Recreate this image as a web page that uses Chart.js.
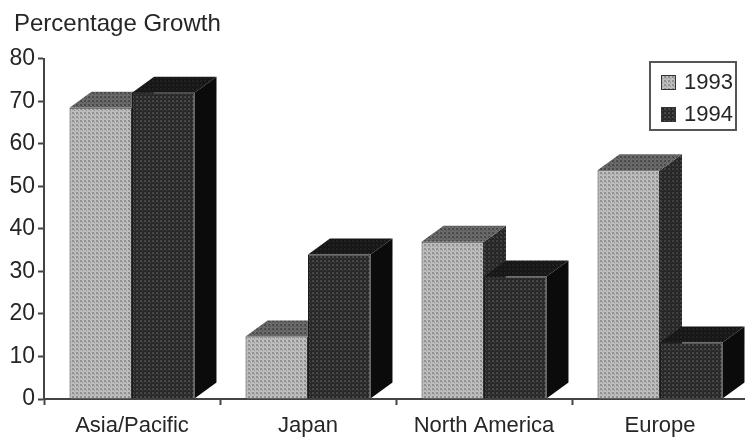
<!DOCTYPE html>
<html>
<head>
<meta charset="utf-8">
<title>Percentage Growth</title>
<script src="https://cdn.jsdelivr.net/npm/chart.js@4/dist/chart.umd.min.js"></script>
<style>
  html, body { margin: 0; padding: 0; background: #fff; overflow: hidden; width: 745px; height: 437px; }
  #wrap { width: 760px; height: 437px; }
</style>
</head>
<body>
<div id="wrap"><canvas id="growthChart" width="760" height="437"></canvas></div>
<script>
const regions = ['Asia/Pacific', 'Japan', 'North America', 'Europe'];
const years = ['1993', '1994'];
const growth1993 = [68.5, 14.7, 37, 53.8];
const growth1994 = [72, 34, 28.8, 13.3];
const yTicks = [0, 10, 20, 30, 40, 50, 60, 70, 80];

const INK = '#262626';
const DEPTH_X = 22;
const DEPTH_Y = 16;

// Small halftone tile, the print-style screen used on every face
function screenTone(base, dot) {
  const tile = document.createElement('canvas');
  tile.width = 4;
  tile.height = 4;
  const t = tile.getContext('2d');
  t.fillStyle = base;
  t.fillRect(0, 0, 4, 4);
  t.fillStyle = dot;
  t.fillRect(0, 0, 2, 2);
  t.fillRect(2, 2, 1, 1);
  return t.createPattern(tile, 'repeat');
}

const faces = [
  { front: screenTone('#bdbdbd', '#8f8f8f'), top: screenTone('#6a6a6a', '#4a4a4a'), side: screenTone('#262626', '#404040') },
  { front: screenTone('#282828', '#474747'), top: screenTone('#161616', '#222222'), side: '#0b0b0b' }
];

function polygon(ctx, pts, fill) {
  ctx.beginPath();
  pts.forEach((p, i) => i ? ctx.lineTo(p[0], p[1]) : ctx.moveTo(p[0], p[1]));
  ctx.closePath();
  ctx.fillStyle = fill;
  ctx.fill();
}

// Extruded top and side faces, placed from the bar elements' own geometry
const barDepth = {
  id: 'barDepth',
  beforeDatasetsDraw(chart) {
    const ctx = chart.ctx;
    ctx.save();
    for (let i = 0; i < regions.length; i++) {
      chart.data.datasets.forEach((ds, d) => {
        const bar = chart.getDatasetMeta(d).data[i];
        const left = bar.x - bar.width / 2;
        const right = bar.x + bar.width / 2;
        polygon(ctx, [[right, bar.y], [right + DEPTH_X, bar.y - DEPTH_Y], [right + DEPTH_X, bar.base - DEPTH_Y], [right, bar.base]], faces[d].side);
        polygon(ctx, [[left, bar.y], [left + DEPTH_X, bar.y - DEPTH_Y], [right + DEPTH_X, bar.y - DEPTH_Y], [right, bar.y]], faces[d].top);
      });
    }
    ctx.restore();
  }
};

// Boxed legend in the upper right corner
const boxedLegend = {
  id: 'boxedLegend',
  afterDraw(chart) {
    const ctx = chart.ctx;
    ctx.save();
    ctx.fillStyle = '#fff';
    ctx.fillRect(650, 62, 86, 68);
    ctx.strokeStyle = '#555';
    ctx.lineWidth = 2;
    ctx.strokeRect(650, 62, 86, 68);
    ctx.font = '22px "Liberation Sans"';
    ctx.textBaseline = 'middle';
    chart.data.datasets.forEach((ds, d) => {
      const y = 75 + d * 32;
      ctx.fillStyle = ds.backgroundColor;
      ctx.fillRect(661, y, 15, 15);
      ctx.strokeStyle = '#333';
      ctx.lineWidth = 1;
      ctx.strokeRect(661.5, y + 0.5, 14, 14);
      ctx.fillStyle = INK;
      ctx.fillText(ds.label, 684, y + 8);
    });
    ctx.restore();
  }
};

// The title sits a little right of the value labels
const titleInset = {
  id: 'titleInset',
  afterLayout(chart) {
    chart.titleBlock.left += 7;
  }
};

new Chart(document.getElementById('growthChart'), {
  type: 'bar',
  data: {
    labels: regions,
    datasets: [
      { label: years[0], data: growth1993, backgroundColor: faces[0].front, borderColor: '#333', borderWidth: 1 },
      { label: years[1], data: growth1994, backgroundColor: faces[1].front, borderColor: '#1a1a1a', borderWidth: 1 }
    ]
  },
  options: {
    responsive: false,
    animation: false,
    layout: { padding: { left: 7, right: 12, top: 0, bottom: 0 } },
    datasets: { bar: { barPercentage: 1, categoryPercentage: 0.71 } },
    scales: {
      x: {
        afterFit(scale) { scale.height = 38; },
        border: { color: '#444', width: 2 },
        grid: { drawOnChartArea: false, tickLength: 6, tickColor: '#444', tickWidth: 2 },
        ticks: { color: INK, font: { family: 'Liberation Sans', size: 22 }, padding: 8, maxRotation: 0 }
      },
      y: {
        min: 0,
        max: 80,
        afterBuildTicks(scale) { scale.ticks = yTicks.map(value => ({ value })); },
        afterFit(scale) { scale.width = 37; },
        border: { color: '#444', width: 2 },
        grid: { drawOnChartArea: false, tickLength: 6, tickColor: '#444', tickWidth: 2 },
        ticks: { color: INK, font: { family: 'Liberation Sans', size: 23 }, padding: 3 }
      }
    },
    plugins: {
      legend: { display: false },
      tooltip: { enabled: false },
      title: {
        display: true,
        text: 'Percentage Growth',
        align: 'start',
        color: INK,
        font: { family: 'Liberation Sans', size: 24, weight: 'normal' },
        padding: { top: 10, bottom: 20 }
      }
    }
  },
  plugins: [barDepth, boxedLegend, titleInset]
});
</script>
</body>
</html>
